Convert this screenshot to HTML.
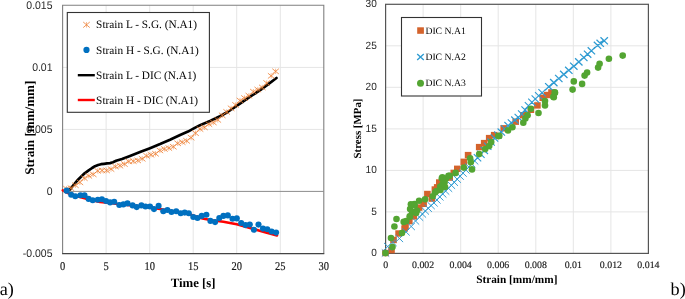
<!DOCTYPE html>
<html><head><meta charset="utf-8"><style>
html,body{margin:0;padding:0;background:#fff;}
body{width:685px;height:299px;overflow:hidden;font-family:"Liberation Sans",sans-serif;}
svg{display:block;}
text{text-rendering:geometricPrecision;}
svg{will-change:transform;}

</style></head><body>
<svg width="685" height="299" viewBox="0 0 685 299">
<rect width="685" height="299" fill="#fff"/>
<path d="M106.1 5.3V253.4M149.7 5.3V253.4M193.2 5.3V253.4M236.7 5.3V253.4M280.3 5.3V253.4M62.6 67.4H323.8M62.6 129.4H323.8" stroke="#e5e5e5" stroke-width="1" fill="none"/>
<path d="M62.6 253.4V5.3H323.8V253.4" stroke="#808080" stroke-width="1.1" fill="none"/>
<path d="M62.1 253.7H324.3" stroke="#454545" stroke-width="1.3" fill="none"/>
<path d="M62.6 191.4H323.8" stroke="#8c8c8c" stroke-width="1" fill="none"/>
<text transform="translate(52.5 8.9) scale(0.95 1)" text-anchor="end" font-family="Liberation Sans, sans-serif" font-size="11" fill="#262626">0.015</text>
<text transform="translate(52.5 71) scale(0.95 1)" text-anchor="end" font-family="Liberation Sans, sans-serif" font-size="11" fill="#262626">0.01</text>
<text transform="translate(52.5 133) scale(0.95 1)" text-anchor="end" font-family="Liberation Sans, sans-serif" font-size="11" fill="#262626">0.005</text>
<text transform="translate(52.5 195) scale(0.95 1)" text-anchor="end" font-family="Liberation Sans, sans-serif" font-size="11" fill="#262626">0</text>
<text transform="translate(52.5 257) scale(0.95 1)" text-anchor="end" font-family="Liberation Sans, sans-serif" font-size="11" fill="#262626">-0.005</text>
<text transform="translate(62.6 270.1) scale(0.88 1)" text-anchor="middle" font-family="Liberation Serif, serif" font-size="11.9" fill="#1a1a1a" stroke="#1a1a1a" stroke-width="0.18">0</text>
<text transform="translate(106.1 270.1) scale(0.88 1)" text-anchor="middle" font-family="Liberation Serif, serif" font-size="11.9" fill="#1a1a1a" stroke="#1a1a1a" stroke-width="0.18">5</text>
<text transform="translate(149.7 270.1) scale(0.88 1)" text-anchor="middle" font-family="Liberation Serif, serif" font-size="11.9" fill="#1a1a1a" stroke="#1a1a1a" stroke-width="0.18">10</text>
<text transform="translate(193.2 270.1) scale(0.88 1)" text-anchor="middle" font-family="Liberation Serif, serif" font-size="11.9" fill="#1a1a1a" stroke="#1a1a1a" stroke-width="0.18">15</text>
<text transform="translate(236.7 270.1) scale(0.88 1)" text-anchor="middle" font-family="Liberation Serif, serif" font-size="11.9" fill="#1a1a1a" stroke="#1a1a1a" stroke-width="0.18">20</text>
<text transform="translate(280.3 270.1) scale(0.88 1)" text-anchor="middle" font-family="Liberation Serif, serif" font-size="11.9" fill="#1a1a1a" stroke="#1a1a1a" stroke-width="0.18">25</text>
<text transform="translate(323.8 270.1) scale(0.88 1)" text-anchor="middle" font-family="Liberation Serif, serif" font-size="11.9" fill="#1a1a1a" stroke="#1a1a1a" stroke-width="0.18">30</text>
<text x="193.1" y="286.9" text-anchor="middle" font-family="Liberation Serif, serif" font-weight="bold" font-size="12.8" fill="#000">Time [s]</text>
<text transform="translate(34.2 127.7) rotate(-90)" text-anchor="middle" font-family="Liberation Serif, serif" font-weight="bold" font-size="13.1" fill="#000">Strain [mm/mm]</text>
<polyline points="69.8,189.6 73.5,185 77,180.8 80.8,177 84.6,173.3 88.3,170.6 92.1,168 95,166.2 98.1,165 101,164.2 104.1,163.8 107,163.4 110.1,163.1 113,162.2 116.1,160.8 122,159 130,156 140,152.1 150,148.2 160.1,144.1 170,139.8 180.1,135 188,131.6 195.2,127.6 200,125.3 210,121 220,116.2 227.6,112 236,106.4 245.1,100.1 252,95.5 260.2,90.1 268,84.3 276.5,78" stroke="#000" stroke-width="2.7" fill="none" stroke-linejoin="round" stroke-linecap="round"/>
<polyline points="62.8,190.3 66,192 70,194 80,197 90,199.8 100,202 110,203 120,204.2 130,205.2 140,206.2 150,207.4 160,209 170,210.8 180,212.4 190,214.6 202.5,218.4 212,220.3 223.4,221.8 230,223 236.8,224.3 250,228 265,232.3 277,235.5" stroke="#ff0000" stroke-width="2.6" fill="none" stroke-linejoin="round" stroke-linecap="round"/>
<path d="M63.2 186.1L69.8 191.4M63.2 191.4L69.8 186.1M67.7 185.5L74.2 190.8M67.7 190.8L74.2 185.5M72.1 182.6L78.7 187.9M72.1 187.9L78.7 182.6M76.6 179.7L83.2 185M76.6 185L83.2 179.7M81 175.5L87.6 180.8M81 180.8L87.6 175.5M85.5 173.2L92.1 178.5M85.5 178.5L92.1 173.2M89.9 171.7L96.5 177M89.9 177L96.5 171.7M94.4 168.2L101 173.5M94.4 173.5L101 168.2M98.8 167.8L105.4 173.1M98.8 173.1L105.4 167.8M103.3 167.8L109.9 173.1M103.3 173.1L109.9 167.8M107.7 166.4L114.3 171.7M107.7 171.7L114.3 166.4M112.2 163.9L118.8 169.2M112.2 169.2L118.8 163.9M116.6 163L123.2 168.3M116.6 168.3L123.2 163M121.1 161.4L127.7 166.7M121.1 166.7L127.7 161.4M125.5 158.8L132.1 164.1M125.5 164.1L132.1 158.8M130 158.5L136.6 163.8M130 163.8L136.6 158.5M134.4 157.8L141 163.1M134.4 163.1L141 157.8M138.8 156.1L145.5 161.4M138.8 161.4L145.5 156.1M143.3 153.2L149.9 158.5M143.3 158.5L149.9 153.2M147.7 152.1L154.3 157.4M147.7 157.4L154.3 152.1M152.2 151.1L158.8 156.4M152.2 156.4L158.8 151.1M156.6 147.8L163.2 153.1M156.6 153.1L163.2 147.8M161.1 146.3L167.7 151.6M161.1 151.6L167.7 146.3M165.5 145.4L172.1 150.7M165.5 150.7L172.1 145.4M170 144.1L176.6 149.4M170 149.4L176.6 144.1M174.4 140.7L181 146M174.4 146L181 140.7M178.9 139.5L185.5 144.8M178.9 144.8L185.5 139.5M183.3 138.2L189.9 143.5M183.3 143.5L189.9 138.2M187.8 135L194.4 140.3M187.8 140.3L194.4 135M192.2 130.5L198.8 135.8M192.2 135.8L198.8 130.5M196.7 126.4L203.3 131.7M196.7 131.7L203.3 126.4M201.1 124.7L207.7 130M201.1 130L207.7 124.7M205.6 121.5L212.2 126.8M205.6 126.8L212.2 121.5M210 119.8L216.6 125.1M210 125.1L216.6 119.8M214.5 117.3L221.1 122.6M214.5 122.6L221.1 117.3M218.9 112.7L225.5 118M218.9 118L225.5 112.7M223.4 109.3L230 114.6M223.4 114.6L230 109.3M227.8 105.7L234.4 111M227.8 111L234.4 105.7M232.3 102.3L238.9 107.6M232.3 107.6L238.9 102.3M236.7 97.9L243.3 103.2M236.7 103.2L243.3 97.9M241.2 95.4L247.8 100.7M241.2 100.7L247.8 95.4M245.6 93L252.2 98.3M245.6 98.3L252.2 93M250.1 89L256.7 94.3M250.1 94.3L256.7 89M254.5 86.9L261.1 92.2M254.5 92.2L261.1 86.9M259 84.8L265.6 90.1M259 90.1L265.6 84.8M263.4 80.4L270 85.7M263.4 85.7L270 80.4M267.9 73.2L274.5 78.5M267.9 78.5L274.5 73.2M272.3 68.7L278.9 74M272.3 74L278.9 68.7" stroke="#ed7d31" stroke-width="0.8" fill="none"/>
<path d="M66.5 186.1V191.4M71 185.5V190.8M75.4 182.6V187.9M79.9 179.7V185M84.3 175.5V180.8M88.8 173.2V178.5M93.2 171.7V177M97.7 168.2V173.5M102.1 167.8V173.1M106.6 167.8V173.1M111 166.4V171.7M115.5 163.9V169.2M119.9 163V168.3M124.4 161.4V166.7M128.8 158.8V164.1M133.3 158.5V163.8M137.7 157.8V163.1M142.2 156.1V161.4M146.6 153.2V158.5M151 152.1V157.4M155.5 151.1V156.4M159.9 147.8V153.1M164.4 146.3V151.6M168.8 145.4V150.7M173.3 144.1V149.4M177.7 140.7V146M182.2 139.5V144.8M186.6 138.2V143.5M191.1 135V140.3M195.5 130.5V135.8M200 126.4V131.7M204.4 124.7V130M208.9 121.5V126.8M213.3 119.8V125.1M217.8 117.3V122.6M222.2 112.7V118M226.7 109.3V114.6M231.1 105.7V111M235.6 102.3V107.6M240 97.9V103.2M244.5 95.4V100.7M248.9 93V98.3M253.4 89V94.3M257.8 86.9V92.2M262.3 84.8V90.1M266.7 80.4V85.7M271.2 73.2V78.5M275.6 68.7V74" stroke="#ed7d31" stroke-width="0.5" fill="none"/>
<g fill="#0070c0"><circle cx="71.2" cy="194.8" r="3.05"/><circle cx="75.3" cy="196.2" r="3.05"/><circle cx="80.4" cy="195.2" r="3.05"/><circle cx="84.5" cy="195.2" r="3.05"/><circle cx="88.6" cy="198.9" r="3.05"/><circle cx="92.7" cy="200.3" r="3.05"/><circle cx="97.8" cy="199.7" r="3.05"/><circle cx="101.9" cy="199.3" r="3.05"/><circle cx="106" cy="201" r="3.05"/><circle cx="110.1" cy="202.4" r="3.05"/><circle cx="114.2" cy="201.8" r="3.05"/><circle cx="119.3" cy="205" r="3.05"/><circle cx="123.4" cy="204.4" r="3.05"/><circle cx="127.5" cy="203.4" r="3.05"/><circle cx="132.6" cy="205.4" r="3.05"/><circle cx="136.7" cy="207.1" r="3.05"/><circle cx="141.4" cy="205.4" r="3.05"/><circle cx="145.5" cy="206.5" r="3.05"/><circle cx="150" cy="206.5" r="3.05"/><circle cx="154" cy="209.1" r="3.05"/><circle cx="158.6" cy="205.9" r="3.05"/><circle cx="163.3" cy="211.2" r="3.05"/><circle cx="167.4" cy="210" r="3.05"/><circle cx="171.5" cy="212" r="3.05"/><circle cx="176.2" cy="211.2" r="3.05"/><circle cx="180.7" cy="213.2" r="3.05"/><circle cx="184.7" cy="212.6" r="3.05"/><circle cx="188.8" cy="213.2" r="3.05"/><circle cx="193.3" cy="217" r="3.05"/><circle cx="197.5" cy="218" r="3.05"/><circle cx="201.7" cy="215.9" r="3.05"/><circle cx="206.4" cy="214.7" r="3.05"/><circle cx="210.4" cy="220.9" r="3.05"/><circle cx="215.1" cy="222.1" r="3.05"/><circle cx="219.3" cy="218.1" r="3.05"/><circle cx="223.4" cy="215.9" r="3.05"/><circle cx="227.8" cy="215.4" r="3.05"/><circle cx="232.5" cy="218.8" r="3.05"/><circle cx="236.8" cy="218.4" r="3.05"/><circle cx="241.2" cy="223" r="3.05"/><circle cx="245.5" cy="225.1" r="3.05"/><circle cx="249.8" cy="224.6" r="3.05"/><circle cx="253.9" cy="229.7" r="3.05"/><circle cx="258.5" cy="224.6" r="3.05"/><circle cx="263" cy="228.6" r="3.05"/><circle cx="267.3" cy="229.3" r="3.05"/><circle cx="271.6" cy="231.5" r="3.05"/><circle cx="276.1" cy="232.6" r="3.05"/><circle cx="66.7" cy="190.7" r="3.1"/></g>
<rect x="67.3" y="12.5" width="142.1" height="99.8" fill="#fff" stroke="#333" stroke-width="1.1"/>
<path d="M83.2 22L89.8 27.6M83.2 27.6L89.8 22" stroke="#ed7d31" stroke-width="0.8" fill="none"/>
<path d="M86.5 22V27.6" stroke="#ed7d31" stroke-width="0.5" fill="none"/>
<circle cx="86.5" cy="49.9" r="3.1" fill="#0070c0"/>
<path d="M77.8 75.2H94.8" stroke="#000" stroke-width="2.4"/>
<path d="M77.8 100H94.8" stroke="#ff0000" stroke-width="2.4"/>
<text x="96.1" y="28.4" font-family="Liberation Serif, serif" font-size="11.3" fill="#000">Strain L - S.G. (N.A1)</text>
<text x="96.1" y="53.5" font-family="Liberation Serif, serif" font-size="11.3" fill="#000">Strain H - S.G. (N.A1)</text>
<text x="96.1" y="78.6" font-family="Liberation Serif, serif" font-size="11.3" fill="#000">Strain L - DIC (N.A1)</text>
<text x="96.1" y="103.7" font-family="Liberation Serif, serif" font-size="11.3" fill="#000">Strain H - DIC (N.A1)</text>
<path d="M423.1 4.3V253.4M460.7 4.3V253.4M498.2 4.3V253.4M535.8 4.3V253.4M573.3 4.3V253.4M610.9 4.3V253.4M385.6 211.9H648.4M385.6 170.4H648.4M385.6 128.9H648.4M385.6 87.3H648.4M385.6 45.8H648.4" stroke="#e5e5e5" stroke-width="1" fill="none"/>
<rect x="385.6" y="4.3" width="262.8" height="249.1" fill="none" stroke="#555" stroke-width="1.2"/>
<text transform="translate(376.8 256.1) scale(0.96 1)" text-anchor="end" font-family="Liberation Sans, sans-serif" font-size="10.5" fill="#262626">0</text>
<text transform="translate(376.8 214.6) scale(0.96 1)" text-anchor="end" font-family="Liberation Sans, sans-serif" font-size="10.5" fill="#262626">5</text>
<text transform="translate(376.8 173.1) scale(0.96 1)" text-anchor="end" font-family="Liberation Sans, sans-serif" font-size="10.5" fill="#262626">10</text>
<text transform="translate(376.8 131.6) scale(0.96 1)" text-anchor="end" font-family="Liberation Sans, sans-serif" font-size="10.5" fill="#262626">15</text>
<text transform="translate(376.8 90) scale(0.96 1)" text-anchor="end" font-family="Liberation Sans, sans-serif" font-size="10.5" fill="#262626">20</text>
<text transform="translate(376.8 48.5) scale(0.96 1)" text-anchor="end" font-family="Liberation Sans, sans-serif" font-size="10.5" fill="#262626">25</text>
<text transform="translate(376.8 7) scale(0.96 1)" text-anchor="end" font-family="Liberation Sans, sans-serif" font-size="10.5" fill="#262626">30</text>
<text x="385.6" y="267.7" text-anchor="middle" font-family="Liberation Serif, serif" font-size="9.9" fill="#1a1a1a" stroke="#1a1a1a" stroke-width="0.15">0</text>
<text x="423.1" y="267.7" text-anchor="middle" font-family="Liberation Serif, serif" font-size="9.9" fill="#1a1a1a" stroke="#1a1a1a" stroke-width="0.15">0.002</text>
<text x="460.7" y="267.7" text-anchor="middle" font-family="Liberation Serif, serif" font-size="9.9" fill="#1a1a1a" stroke="#1a1a1a" stroke-width="0.15">0.004</text>
<text x="498.2" y="267.7" text-anchor="middle" font-family="Liberation Serif, serif" font-size="9.9" fill="#1a1a1a" stroke="#1a1a1a" stroke-width="0.15">0.006</text>
<text x="535.8" y="267.7" text-anchor="middle" font-family="Liberation Serif, serif" font-size="9.9" fill="#1a1a1a" stroke="#1a1a1a" stroke-width="0.15">0.008</text>
<text x="573.3" y="267.7" text-anchor="middle" font-family="Liberation Serif, serif" font-size="9.9" fill="#1a1a1a" stroke="#1a1a1a" stroke-width="0.15">0.01</text>
<text x="610.9" y="267.7" text-anchor="middle" font-family="Liberation Serif, serif" font-size="9.9" fill="#1a1a1a" stroke="#1a1a1a" stroke-width="0.15">0.012</text>
<text x="648.4" y="267.7" text-anchor="middle" font-family="Liberation Serif, serif" font-size="9.9" fill="#1a1a1a" stroke="#1a1a1a" stroke-width="0.15">0.014</text>
<text x="516.8" y="282.5" text-anchor="middle" font-family="Liberation Serif, serif" font-weight="bold" font-size="11.3" fill="#000">Strain [mm/mm]</text>
<text transform="translate(361 128.5) rotate(-90)" text-anchor="middle" font-family="Liberation Serif, serif" font-weight="bold" font-size="10.9" fill="#000">Stress [MPa]</text>
<g fill="#d4632c"><rect x="382.2" y="249.8" width="6.6" height="6.4"/><rect x="388.2" y="246.9" width="6.6" height="6.4"/><rect x="390.2" y="236.8" width="6.6" height="6.4"/><rect x="395.3" y="230.3" width="6.6" height="6.4"/><rect x="401.3" y="225.3" width="6.6" height="6.4"/><rect x="402.2" y="223.2" width="6.6" height="6.4"/><rect x="406" y="217.9" width="6.6" height="6.4"/><rect x="410.5" y="213.2" width="6.6" height="6.4"/><rect x="415.8" y="204.4" width="6.6" height="6.4"/><rect x="420.3" y="200.6" width="6.6" height="6.4"/><rect x="424.1" y="190.8" width="6.6" height="6.4"/><rect x="428.6" y="195.4" width="6.6" height="6.4"/><rect x="431.6" y="186.3" width="6.6" height="6.4"/><rect x="433.9" y="184.1" width="6.6" height="6.4"/><rect x="436" y="179.3" width="6.6" height="6.4"/><rect x="440.7" y="177.3" width="6.6" height="6.4"/><rect x="446.4" y="174.4" width="6.6" height="6.4"/><rect x="450.5" y="169.7" width="6.6" height="6.4"/><rect x="454" y="165.6" width="6.6" height="6.4"/><rect x="460.5" y="158.6" width="6.6" height="6.4"/><rect x="464.8" y="151.9" width="6.6" height="6.4"/><rect x="475.9" y="143.9" width="6.6" height="6.4"/><rect x="480.9" y="139.9" width="6.6" height="6.4"/><rect x="485.9" y="134.9" width="6.6" height="6.4"/><rect x="490.9" y="131.9" width="6.6" height="6.4"/><rect x="500.4" y="125.1" width="6.6" height="6.4"/><rect x="512.4" y="118.5" width="6.6" height="6.4"/><rect x="520" y="112" width="6.6" height="6.4"/><rect x="527.6" y="106.6" width="6.6" height="6.4"/><rect x="534.1" y="102.2" width="6.6" height="6.4"/><rect x="539.5" y="94.6" width="6.6" height="6.4"/><rect x="543.7" y="91.8" width="6.6" height="6.4"/><rect x="548.2" y="89.2" width="6.6" height="6.4"/></g>
<path d="M381.8 249.4L389.2 256.6M381.8 256.6L389.2 249.4M384 242.9L391.4 250.1M384 250.1L391.4 242.9M389.3 238.9L396.7 246.1M389.3 246.1L396.7 238.9M395.7 234.9L403.1 242.1M395.7 242.1L403.1 234.9M402.3 228.3L409.7 235.5M402.3 235.5L409.7 228.3M407.5 222.9L414.9 230.1M407.5 230.1L414.9 222.9M411.8 217.4L419.2 224.6M411.8 224.6L419.2 217.4M415.8 213.6L423.2 220.8M415.8 220.8L423.2 213.6M418.7 210.4L426.1 217.6M418.7 217.6L426.1 210.4M421.6 207.4L429 214.6M421.6 214.6L429 207.4M424.5 204.7L431.9 211.9M424.5 211.9L431.9 204.7M427.4 202L434.8 209.2M427.4 209.2L434.8 202M430.3 199.3L437.7 206.5M430.3 206.5L437.7 199.3M433.2 196.4L440.6 203.6M433.2 203.6L440.6 196.4M436.1 193.3L443.5 200.5M436.1 200.5L443.5 193.3M439 190.3L446.4 197.5M439 197.5L446.4 190.3M441.9 187.5L449.3 194.7M441.9 194.7L449.3 187.5M444.8 184.7L452.2 191.9M444.8 191.9L452.2 184.7M447.7 181.7L455.1 188.9M447.7 188.9L455.1 181.7M450.6 178.7L458 185.9M450.6 185.9L458 178.7M453.5 175.6L460.9 182.8M453.5 182.8L460.9 175.6M456.4 172.6L463.8 179.8M456.4 179.8L463.8 172.6M459.3 169.5L466.7 176.7M459.3 176.7L466.7 169.5M462.2 166.4L469.6 173.6M462.2 173.6L469.6 166.4M465.1 163.4L472.5 170.6M465.1 170.6L472.5 163.4M468 160.3L475.4 167.5M468 167.5L475.4 160.3M470.9 157.3L478.3 164.5M470.9 164.5L478.3 157.3" stroke="#2e9bd2" stroke-width="0.95" fill="none"/>
<path d="M473.8 154.2L481.2 161.4M473.8 161.4L481.2 154.2M477.2 150.6L484.6 157.8M477.2 157.8L484.6 150.6M480.6 146.8L488 154M480.6 154L488 146.8M484 142.7L491.4 149.9M484 149.9L491.4 142.7M487.4 138.5L494.8 145.7M487.4 145.7L494.8 138.5M490.8 134.4L498.2 141.6M490.8 141.6L498.2 134.4M494.2 131.5L501.6 138.7M494.2 138.7L501.6 131.5M497.6 128.5L505 135.7M497.6 135.7L505 128.5M501 125.2L508.4 132.4M501 132.4L508.4 125.2M504.4 122L511.8 129.2M504.4 129.2L511.8 122M507.8 119.3L515.2 126.5M507.8 126.5L515.2 119.3M511.2 116.5L518.6 123.7M511.2 123.7L518.6 116.5M514.6 113.8L522 121M514.6 121L522 113.8M518 110.4L525.4 117.6M518 117.6L525.4 110.4M521.4 106.3L528.8 113.5M521.4 113.5L528.8 106.3M524.8 102.2L532.2 109.4M524.8 109.4L532.2 102.2M528.2 98.6L535.6 105.8M528.2 105.8L535.6 98.6M531.6 95.4L539 102.6M531.6 102.6L539 95.4M535 92.2L542.4 99.4M535 99.4L542.4 92.2M538.4 89.1L545.8 96.3M538.4 96.3L545.8 89.1" stroke="#2e9bd2" stroke-width="1.1" fill="none"/>
<path d="M545.1 83.1L552.5 90.3M545.1 90.3L552.5 83.1M550.1 79L557.5 86.2M550.1 86.2L557.5 79M555.1 74.9L562.5 82.1M555.1 82.1L562.5 74.9M560.1 70.8L567.5 78M560.1 78L567.5 70.8M565.1 66.7L572.5 73.9M565.1 73.9L572.5 66.7M570.1 62.6L577.5 69.8M570.1 69.8L577.5 62.6M575.1 58.3L582.5 65.5M575.1 65.5L582.5 58.3M580.1 53.9L587.5 61.1M580.1 61.1L587.5 53.9M583.9 50.6L591.3 57.8M583.9 57.8L591.3 50.6M587.7 47.2L595.1 54.4M587.7 54.4L595.1 47.2M593.8 41.7L601.2 48.9M593.8 48.9L601.2 41.7M596.5 39.7L603.9 46.9M596.5 46.9L603.9 39.7M600.5 37.2L607.9 44.4M600.5 44.4L607.9 37.2" stroke="#2e9bd2" stroke-width="1.3" fill="none"/>
<g fill="#53a532"><circle cx="385.5" cy="253.1" r="3.3"/><circle cx="392.5" cy="247.1" r="3.3"/><circle cx="391" cy="238" r="3.3"/><circle cx="394.4" cy="226.5" r="3.3"/><circle cx="396.5" cy="219" r="3.3"/><circle cx="402" cy="233" r="3.3"/><circle cx="403.7" cy="221.9" r="3.3"/><circle cx="410.1" cy="216.6" r="3.3"/><circle cx="410.1" cy="209.1" r="3.3"/><circle cx="412" cy="211.7" r="3.3"/><circle cx="406.2" cy="221" r="3.3"/><circle cx="409.7" cy="216.4" r="3.3"/><circle cx="414.4" cy="204" r="3.3"/><circle cx="417" cy="210.5" r="3.3"/><circle cx="410.9" cy="204.3" r="3.3"/><circle cx="414.6" cy="205.3" r="3.3"/><circle cx="416.1" cy="212.9" r="3.3"/><circle cx="419.1" cy="200.8" r="3.3"/><circle cx="425.1" cy="199.3" r="3.3"/><circle cx="432.7" cy="196.3" r="3.3"/><circle cx="435.1" cy="192.6" r="3.3"/><circle cx="436.4" cy="191" r="3.3"/><circle cx="440.2" cy="186.5" r="3.3"/><circle cx="442.6" cy="184.2" r="3.3"/><circle cx="441.8" cy="178.4" r="3.3"/><circle cx="444.5" cy="182.5" r="3.3"/><circle cx="445" cy="187" r="3.3"/><circle cx="446" cy="178.5" r="3.3"/><circle cx="440.5" cy="190" r="3.3"/><circle cx="443.5" cy="180" r="3.3"/><circle cx="448.5" cy="175.9" r="3.3"/><circle cx="442.4" cy="177.2" r="3.3"/><circle cx="449.7" cy="175.8" r="3.3"/><circle cx="455.6" cy="172.9" r="3.3"/><circle cx="463.8" cy="167.6" r="3.3"/><circle cx="470.1" cy="158.2" r="3.3"/><circle cx="470.8" cy="162.3" r="3.3"/><circle cx="472" cy="169.4" r="3.3"/><circle cx="479.2" cy="154.1" r="3.3"/><circle cx="485.2" cy="149.1" r="3.3"/><circle cx="489.2" cy="146.1" r="3.3"/><circle cx="491.2" cy="142.1" r="3.3"/><circle cx="498.2" cy="136.1" r="3.3"/><circle cx="499.3" cy="135.9" r="3.3"/><circle cx="508" cy="130.4" r="3.3"/><circle cx="512.4" cy="127.2" r="3.3"/><circle cx="523.3" cy="122.8" r="3.3"/><circle cx="525.4" cy="118.5" r="3.3"/><circle cx="527.6" cy="115.2" r="3.3"/><circle cx="530.9" cy="108.7" r="3.3"/><circle cx="538.5" cy="113" r="3.3"/><circle cx="545" cy="105.4" r="3.3"/><circle cx="545" cy="101.1" r="3.3"/><circle cx="553.3" cy="96.7" r="3.3"/><circle cx="554.8" cy="92.4" r="3.3"/><circle cx="555" cy="92.7" r="3.3"/><circle cx="553.8" cy="97.2" r="3.3"/><circle cx="572.6" cy="89.6" r="3.3"/><circle cx="573.8" cy="81.4" r="3.3"/><circle cx="582.1" cy="83.9" r="3.3"/><circle cx="584.6" cy="75.6" r="3.3"/><circle cx="587.1" cy="72.6" r="3.3"/><circle cx="598.1" cy="67.6" r="3.3"/><circle cx="599.6" cy="63.8" r="3.3"/><circle cx="608.9" cy="58.8" r="3.3"/><circle cx="622.7" cy="55.6" r="3.3"/></g>
<rect x="401.5" y="17.5" width="80" height="78.5" fill="#fff" stroke="#333" stroke-width="1.1"/>
<rect x="417.2" y="27.3" width="6.7" height="6.5" fill="#d4632c"/>
<path d="M417.2 54L423.8 59.9M417.2 59.9L423.8 54" stroke="#2e9bd2" stroke-width="1.4"/>
<circle cx="420.5" cy="83.3" r="3.5" fill="#53a532"/>
<text x="425.4" y="33.7" font-family="Liberation Serif, serif" font-size="9.7" fill="#000">DIC N.A1</text>
<text x="425.4" y="60" font-family="Liberation Serif, serif" font-size="9.7" fill="#000">DIC N.A2</text>
<text x="425.4" y="86.3" font-family="Liberation Serif, serif" font-size="9.7" fill="#000">DIC N.A3</text>
<text x="-0.3" y="294.7" font-family="Liberation Serif, serif" font-size="18.2" fill="#000">a)</text>
<text x="670.6" y="294.7" font-family="Liberation Serif, serif" font-size="18.2" fill="#000">b)</text>
</svg>
</body></html>
